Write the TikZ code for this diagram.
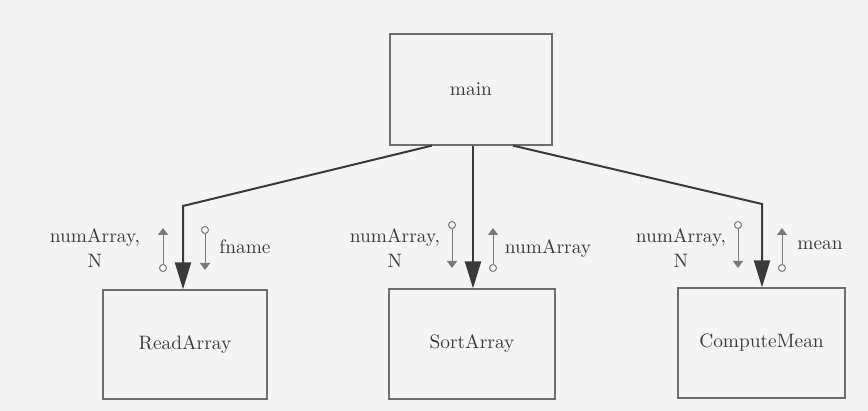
\documentclass[tikz,border=0pt]{standalone}
\usetikzlibrary{arrows.meta}
\definecolor{paper}{HTML}{F4F4F4}
\definecolor{ink}{HTML}{3A3A3A}
\definecolor{boxline}{HTML}{6E6E6E}
\definecolor{flowline}{HTML}{7A7A7A}
\begin{document}
\begin{tikzpicture}[x=0.5pt,y=-0.5pt,
  every node/.style={font=\fontsize{9.7}{12.5}\selectfont, text=ink},
  module/.style={draw=boxline, line width=0.6pt, inner sep=0pt},
  call/.style={draw=ink, line width=1pt, -{Triangle[width=8pt,length=13.5pt]}},
  couple/.style={draw=flowline, line width=0.5pt,
    {Circle[open,length=4pt,width=4pt]}-{Triangle[width=5pt,length=3.5pt]}},
  lbl/.style={align=center, inner sep=0pt}]
  % page
  \fill[paper] (0,0) rectangle (868,411);
  \useasboundingbox (0,0) rectangle (868,411);

  % modules
  \node[module, minimum width=81pt, minimum height=55.5pt] (main) at (471,89.5) {main};
  \node[module, minimum width=82pt, minimum height=54.5pt] (ReadArray) at (185,344.5) {ReadArray};
  \node[module, minimum width=83pt, minimum height=55pt] (SortArray) at (472,344) {SortArray};
  \node[module, minimum width=83.5pt, minimum height=55pt] (ComputeMean) at (761.5,343) {ComputeMean};

  % calls
  \coordinate (kL) at (183,206);
  \coordinate (kR) at (762,204);
  \draw[call] ([xshift=-19.5pt]main.south) -- (kL) -- (kL |- ReadArray.north);
  \draw[call] ([xshift=1pt]main.south) -- ([xshift=1pt]main.south |- SortArray.north);
  \draw[call] ([xshift=21pt]main.south) -- (kR) -- (kR |- ComputeMean.north);

  % data couples
  \coordinate (ra1s) at (163,272); \coordinate (ra1e) at (163,228);
  \coordinate (ra2s) at (205,226); \coordinate (ra2e) at (205,270);
  \coordinate (sa1s) at (452,221); \coordinate (sa1e) at (452,268);
  \coordinate (sa2s) at (493,272); \coordinate (sa2e) at (493,228);
  \coordinate (cm1s) at (738,221); \coordinate (cm1e) at (738,268);
  \coordinate (cm2s) at (782,272); \coordinate (cm2e) at (782,228);
  \draw[couple] (ra1s) -- (ra1e);
  \draw[couple] (ra2s) -- (ra2e);
  \draw[couple] (sa1s) -- (sa1e);
  \draw[couple] (sa2s) -- (sa2e);
  \draw[couple] (cm1s) -- (cm1e);
  \draw[couple] (cm2s) -- (cm2e);

  % couple labels
  \node[lbl] (ra1l) at (95,248) {numArray,\\N};
  \node[lbl, anchor=base] (ra2l) at (245,254) {fname};
  \node[lbl] (sa1l) at (395,248) {numArray,\\N};
  \node[lbl, anchor=base] (sa2l) at (548,254) {numArray};
  \node[lbl] (cm1l) at (681,248) {numArray,\\N};
  \node[lbl, anchor=base] (cm2l) at (820,250) {mean};
\end{tikzpicture}
\end{document}
